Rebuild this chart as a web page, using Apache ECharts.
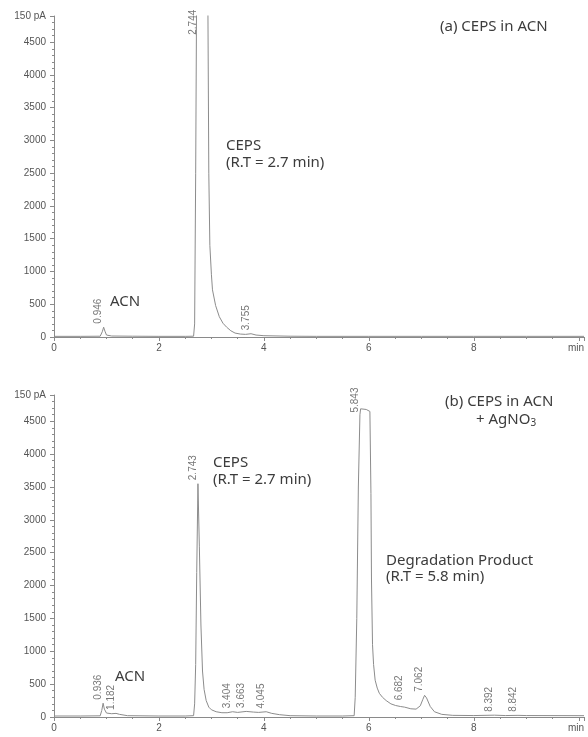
<!DOCTYPE html>
<html>
<head>
<meta charset="utf-8">
<script src="https://cdn.jsdelivr.net/npm/echarts@6/dist/echarts.min.js"></script>
<style>
  html, body { margin: 0; padding: 0; background: #fff; }
  #chart { width: 588px; height: 737px; }
</style>
</head>
<body>
<div id="chart"></div>
<script>
// axis limits / tick labels
const X_MAX = 10.1;
const Y_MAX = 4900;
const yUnitLabel = '150 pA';
const xUnitLabel = 'min';

// (a) CEPS in ACN - trace
const timeA = [0, 0.5, 0.88, 0.92, 0.946, 0.97, 1.0, 1.1, 1.5, 2.0, 2.5, 2.66, 2.68, 2.70, 2.72, 2.744,
  2.85, 2.93, 2.95, 2.97, 3.0, 3.02, 3.08, 3.15, 3.22, 3.29, 3.37, 3.45, 3.55, 3.65, 3.755, 3.85,
  4.0, 4.5, 5.0, 6.0, 7.0, 8.0, 9.0, 10.1];
const signalA = [10, 10, 12, 80, 150, 90, 30, 15, 12, 10, 10, 12, 200, 2500, 5600, 6500,
  6400, 5500, 2500, 1400, 950, 720, 480, 310, 210, 150, 95, 60, 45, 40, 50, 30,
  20, 12, 10, 10, 10, 10, 10, 10];
const peakTimeA = [0.946, 2.744, 3.755];
const peakLevelA = [150, 4560, 50];

// (b) CEPS in ACN + AgNO3
const timeB = [0, 0.5, 0.88, 0.91, 0.936, 0.96, 1.0, 1.1, 1.182, 1.25, 1.4, 2.0, 2.5, 2.66, 2.68, 2.70,
  2.72, 2.743, 2.77, 2.80, 2.83, 2.86, 2.90, 2.95, 3.0, 3.09, 3.2, 3.3, 3.404, 3.5, 3.663, 3.8,
  3.9, 4.045, 4.15, 4.3, 4.5, 5.0, 5.5, 5.72, 5.74, 5.77, 5.80, 5.83, 5.843, 5.95, 6.02, 6.04,
  6.05, 6.07, 6.09, 6.12, 6.16, 6.20, 6.26, 6.33, 6.42, 6.51, 6.6, 6.682, 6.8, 6.9, 6.98, 7.03,
  7.062, 7.10, 7.17, 7.25, 7.39, 7.6, 8.0, 8.392, 8.6, 8.842, 9.0, 10.1];
const signalB = [15, 15, 18, 100, 210, 120, 60, 50, 55, 40, 20, 15, 15, 20, 200, 800,
  2200, 3550, 2600, 1400, 700, 420, 250, 150, 110, 80, 65, 65, 80, 70, 85, 75,
  70, 80, 55, 35, 20, 15, 15, 20, 300, 1500, 3500, 4600, 4690, 4680, 4650, 3400,
  2100, 1100, 800, 560, 440, 360, 300, 250, 200, 175, 160, 150, 125, 120, 170, 270,
  330, 290, 160, 80, 40, 25, 22, 28, 22, 25, 22, 20];
const peakTimeB = [0.936, 1.182, 2.743, 3.404, 3.663, 4.045, 5.843, 6.682, 7.062, 8.392, 8.842];
const peakLevelB = [210, 55, 3550, 80, 85, 75, 4580, 200, 330, 25, 25];

const TRACE = '#8c8c8c';
const AXIS = '#8a8a8a';
const TICKTXT = '#555';
const NOTE = '#3c3c3c';
const NOTE_FONT = 'Noto Sans';

function pairs(t, v) { return t.map((x, i) => [x, v[i]]); }

function xAxis(i) {
  return {
    gridIndex: i, type: 'value', min: 0, max: X_MAX, interval: 2,
    axisLine: { lineStyle: { color: AXIS, width: 1 } },
    axisTick: { length: 4, lineStyle: { color: AXIS } },
    minorTick: { show: true, splitNumber: 4, length: 2, lineStyle: { color: AXIS } },
    splitLine: { show: false },
    axisLabel: {
      fontSize: 10, color: TICKTXT, margin: 6, showMaxLabel: true, alignMaxLabel: 'right',
      formatter: v => Math.abs(v - X_MAX) < 1e-6 ? xUnitLabel : (v % 2 === 0 && v < 10 ? String(v) : '')
    }
  };
}

function yAxis(i) {
  return {
    gridIndex: i, type: 'value', min: 0, max: Y_MAX, interval: 500,
    axisLine: { show: true, lineStyle: { color: AXIS, width: 1 } },
    axisTick: { show: true, length: 4, lineStyle: { color: AXIS } },
    minorTick: { show: true, splitNumber: 5, length: 2, lineStyle: { color: AXIS } },
    splitLine: { show: false },
    axisLabel: {
      fontSize: 10, color: TICKTXT, margin: 8, showMaxLabel: true,
      formatter: v => v === Y_MAX ? yUnitLabel : String(v)
    }
  };
}

function trace(i, t, v) {
  return {
    type: 'line', xAxisIndex: i, yAxisIndex: i, data: pairs(t, v),
    symbol: 'none', clip: true, silent: true,
    lineStyle: { color: TRACE, width: 1 }
  };
}

function peakLabels(i, t, h) {
  return {
    type: 'scatter', xAxisIndex: i, yAxisIndex: i, data: pairs(t, h),
    symbolSize: 1, itemStyle: { color: 'rgba(0,0,0,0)' }, silent: true,
    label: {
      show: true, position: 'top', distance: 3, rotate: 90,
      align: 'left', verticalAlign: 'bottom',
      fontSize: 10, color: TICKTXT,
      formatter: p => p.value[0].toFixed(3)
    }
  };
}

function note(x, y, text) {
  return { type: 'text', x: x, y: y, silent: true,
    style: { text: text, fontFamily: NOTE_FONT, fontSize: 15, fill: NOTE, verticalAlign: 'middle' } };
}

const chart = echarts.init(document.getElementById('chart'));
chart.setOption({
  animation: false,
  textStyle: { fontFamily: 'Liberation Sans' },
  grid: [
    { left: 54, top: 16, width: 530, height: 321 },
    { left: 54, top: 395, width: 530, height: 322 }
  ],
  xAxis: [xAxis(0), xAxis(1)],
  yAxis: [yAxis(0), yAxis(1)],
  series: [
    trace(0, timeA, signalA),
    peakLabels(0, peakTimeA, peakLevelA),
    trace(1, timeB, signalB),
    peakLabels(1, peakTimeB, peakLevelB)
  ],
  graphic: [
    note(440, 27, '(a) CEPS in ACN'),
    note(226, 146, 'CEPS'),
    note(226, 163, '(R.T = 2.7 min)'),
    note(110, 302, 'ACN'),
    note(445, 402, '(b) CEPS in ACN'),
    { type: 'text', x: 476, y: 420, silent: true,
      style: { text: '+ AgNO{sub|3}', fontFamily: NOTE_FONT, fontSize: 15, fill: NOTE, verticalAlign: 'middle',
        rich: { sub: { fontSize: 10, fontFamily: NOTE_FONT, fill: NOTE, verticalAlign: 'bottom', padding: [6, 0, 0, 0] } } } },
    note(213, 463, 'CEPS'),
    note(213, 480, '(R.T = 2.7 min)'),
    note(386, 561, 'Degradation Product'),
    note(386, 577, '(R.T = 5.8 min)'),
    note(115, 677, 'ACN')
  ]
});
</script>
</body>
</html>
